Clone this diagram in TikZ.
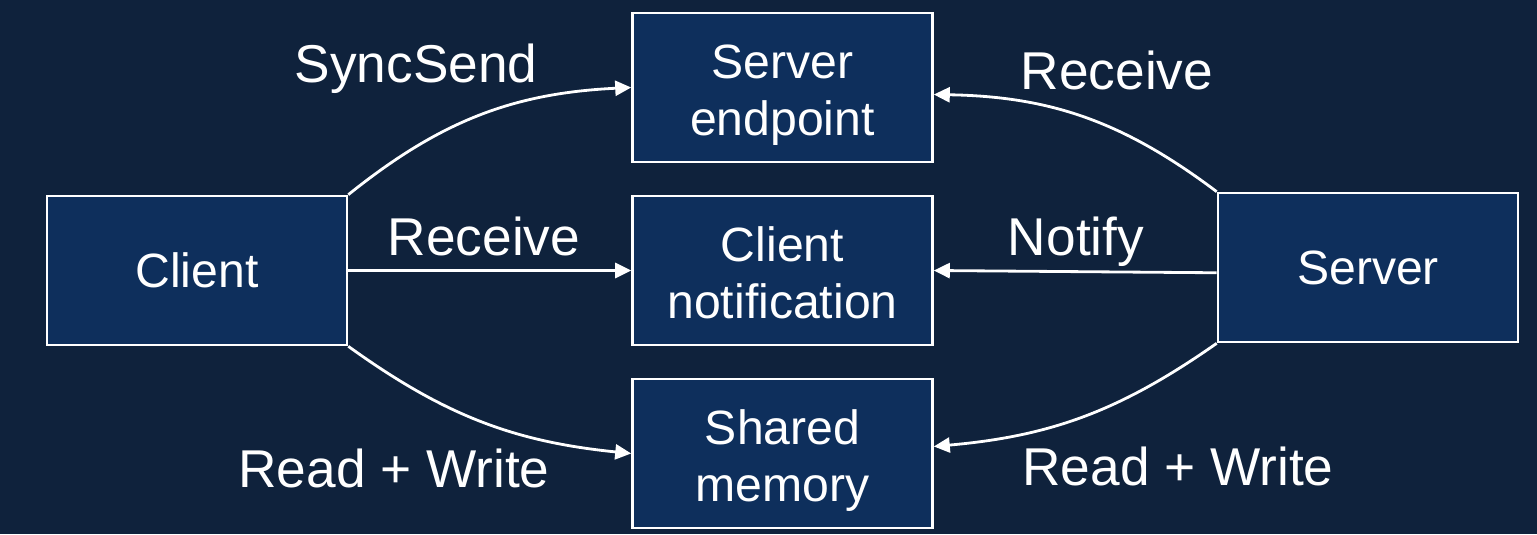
\documentclass[tikz,border=0pt]{standalone}
\usepackage{fontspec}
\setmainfont{Liberation Sans}
\usetikzlibrary{arrows.meta}
\definecolor{bg}{HTML}{0F223C}
\definecolor{boxfill}{HTML}{0E2F5C}

\begin{document}
\begin{tikzpicture}[x=0.02cm, y=0.02cm,
    box/.style={draw=white, fill=boxfill, line width=1.5pt, minimum width=6cm,
      minimum height=2.98cm, text=white, align=center,
      font=\fontsize{27.4}{32.6}\selectfont},
    twoline/.style={box, text height=60.6pt, text depth=5.8pt},
    lbl/.style={text=white, anchor=base, font=\fontsize{30.3}{36}\selectfont},
    link/.style={white, line width=1.6pt, -{Triangle[length=0.32cm,width=0.3cm]}}]
        \fill[bg] (0,0) rectangle (1537,534);
        \useasboundingbox (0,0) rectangle (1537,534);

        \node[box] (cl)  at (197,263.5)   {Client};
        \node[twoline] (ep)  at (782.5,446.5) {Server\\endpoint};
        \node[twoline] (cn)  at (782.5,263.5) {Client\\notification};
        \node[twoline] (shm) at (782.5,80.5)  {Shared\\memory};
        \node[box] (srv) at (1368,266.5)  {Server};

        \node[lbl] (l1) at (416,451)  {SyncSend};
        \node[lbl] (l2) at (484,278)  {Receive};
        \node[lbl] (l3) at (394,47)   {Read + Write};
        \node[lbl] (r1) at (1117,444) {Receive};
        \node[lbl] (r2) at (1076,278) {Notify};
        \node[lbl] (r3) at (1178,49)  {Read + Write};

        \draw[link] (cl.north east) to[bend left=18] (ep.west);
        \draw[link] (cl.east) -- (cn.west);
        \draw[link] (cl.south east) to[bend right=15] (shm.west);

        \draw[link] (srv.north west) to[bend right=18] ([yshift=-4]ep.east);
        \draw[link] ([yshift=-3]srv.west) -- (cn.east);
        \draw[link] (srv.south west) to[bend left=15] ([yshift=4]shm.east);
\end{tikzpicture}
\end{document}
